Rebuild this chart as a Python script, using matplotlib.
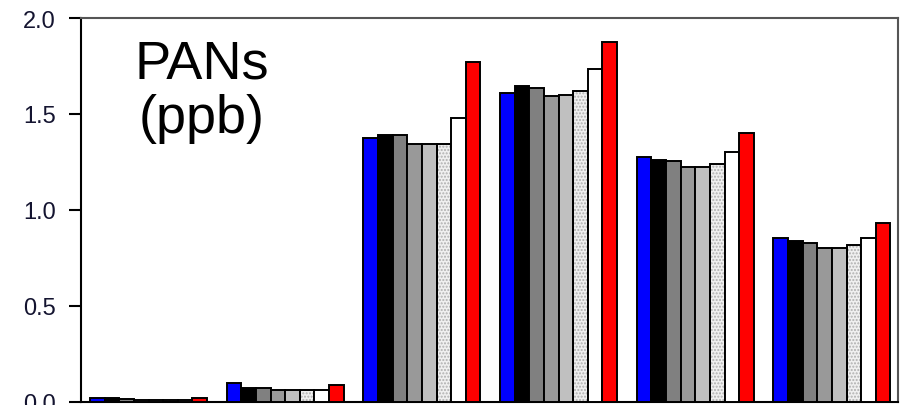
import matplotlib.pyplot as plt
import numpy as np

# PANs (ppb), 6 groups x 8 series
groups = np.arange(6)
series_colors = ['#0000ff', '#000000', '#808080', '#999999', '#c0c0c0', 'dots', '#ffffff', '#ff0000']
values = [
    [0.017, 0.017, 0.015, 0.008, 0.008, 0.008, 0.008, 0.017],
    [0.098, 0.072, 0.072, 0.060, 0.060, 0.060, 0.060, 0.088],
    [1.374, 1.392, 1.392, 1.345, 1.345, 1.345, 1.480, 1.770],
    [1.610, 1.645, 1.636, 1.593, 1.600, 1.620, 1.733, 1.874],
    [1.275, 1.260, 1.256, 1.223, 1.223, 1.240, 1.303, 1.398],
    [0.853, 0.836, 0.826, 0.798, 0.798, 0.817, 0.855, 0.931],
]
yticks = [0.0, 0.5, 1.0, 1.5, 2.0]

plt.rcParams['font.family'] = ['Liberation Sans', 'DejaVu Sans']
fig = plt.figure(figsize=(9.02, 4.06), dpi=100)
ax = fig.add_axes([81 / 902, 3.5 / 406, 817 / 902, 383.5 / 406])

vals = np.array(values)
w = 0.107
for j, c in enumerate(series_colors):
    x = groups + (j - 3.5) * w
    if c == 'dots':
        ax.bar(x, vals[:, j], w, color='#f0f0f0', edgecolor='#b0b0b0',
               hatch='.....', linewidth=0, zorder=2)
        ax.bar(x, vals[:, j], w, color='none', edgecolor='black',
               linewidth=1.4, zorder=3)
    else:
        ax.bar(x, vals[:, j], w, color=c, edgecolor='black',
               linewidth=1.4, zorder=3)

ax.set_xlim(-0.494, 5.483)
ax.set_ylim(0, 2.0)
ax.set_yticks(yticks)
ax.set_yticklabels(['%.1f' % t for t in yticks])
ax.set_xticks([])
ax.tick_params(axis='y', direction='out', length=9, width=1.5, labelsize=17,
               pad=9, labelcolor='#141430')
ax.spines['left'].set_linewidth(1.5)
ax.spines['bottom'].set_linewidth(1.5)
ax.spines['top'].set_color('#555555')
ax.spines['right'].set_color('#555555')
ax.spines['top'].set_linewidth(1.5)
ax.spines['right'].set_linewidth(1.5)

fig.text(202 / 902, 1 - 92 / 406, 'PANs\n(ppb)', ha='center', va='center',
         fontsize=39, linespacing=1.12)

fig.savefig('out.png', dpi=100)
